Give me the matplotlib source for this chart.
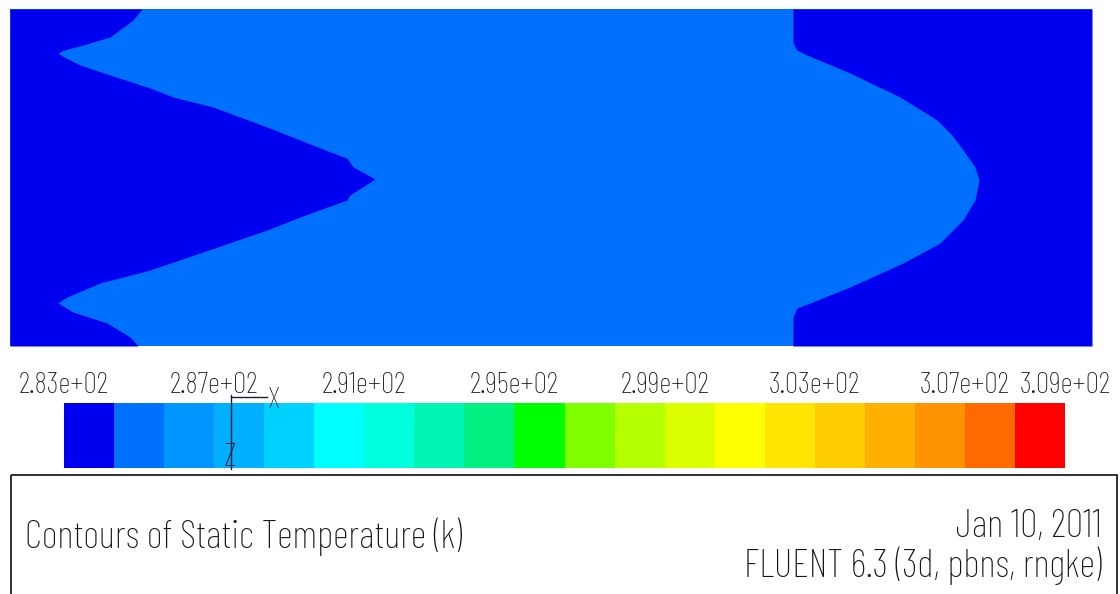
import matplotlib
matplotlib.use("Agg")
import matplotlib.pyplot as plt
from matplotlib import font_manager
from matplotlib.font_manager import FontProperties
from matplotlib.colors import ListedColormap, BoundaryNorm
from matplotlib.cm import ScalarMappable
from matplotlib.patches import Rectangle
import numpy as np

# ---------------- data ----------------
# contour band colours (20 levels, FLUENT rainbow)
band_colors = ["#0000F0", "#0070FF", "#0096FF", "#00B0FF", "#00D2FF",
               "#00FFFF", "#00FFDC", "#00F5B4", "#00F082", "#00FF00",
               "#80FF00", "#B4FF00", "#DCFF00", "#FFFF00", "#FFE600",
               "#FFCC00", "#FFB000", "#FF9400", "#FF6A00", "#FF0000"]
t_min, t_max = 283.0, 309.0
n_bands = 20
tick_band_index = [0, 3, 6, 9, 12, 15, 18, 20]
tick_labels = ["2.83e+02", "2.87e+02", "2.91e+02", "2.95e+02",
               "2.99e+02", "3.03e+02", "3.07e+02", "3.09e+02"]

# domain extent (screen units of the FLUENT view)
dom_x = [10, 1092]
dom_y = [9, 346]

# band-0 / band-1 iso-boundary near the inlet (left), x as function of y
left_y = [9, 20, 37, 45, 50, 53, 57, 65, 75, 88, 97, 107, 127, 153, 158,
          167, 179, 195, 200, 217, 230, 253, 270, 283, 297, 303, 312, 323,
          337, 346]
left_x = [142, 133, 110, 83, 64, 58, 64, 80, 110, 150, 173, 213, 267, 333,
          347, 353, 375, 350, 347, 300, 267, 200, 150, 100, 67, 58, 73, 107,
          130, 138]

# band-0 / band-1 iso-boundary near the outlet (right)
right_y = [9, 43, 50, 55, 73, 97, 120, 135, 150, 167, 180, 200, 220, 243,
           263, 287, 303, 308, 317, 346]
right_x = [793, 793, 797, 807, 850, 900, 937, 952, 963, 975, 979, 975, 963,
           940, 903, 850, 810, 797, 793, 793]

title_text = "Contours of Static Temperature (k)"
date_text = "Jan 10, 2011"
solver_text = "FLUENT 6.3 (3d, pbns, rngke)"

# ---------------- fonts ----------------
names = {f.name for f in font_manager.fontManager.ttflist}
candidates = [("Barlow Condensed", 200, 21.5, 28),
              ("Asap Condensed", 300, 20, 25),
              ("Archivo Narrow", 400, 20, 25),
              ("Roboto Condensed", 300, 20, 25),
              ("Liberation Sans Narrow", 400, 20, 25),
              ("DejaVu Sans", 400, 15, 18)]
for FONT, FW, fs_lab, fs_title in candidates:
    if FONT in names:
        break
plt.rcParams["font.family"] = [FONT, "DejaVu Sans"]
plt.rcParams["font.weight"] = FW
txt_color = "#151515"

# ---------------- figure ----------------
W, H = 1120, 594
fig = plt.figure(figsize=(W / 100, H / 100), dpi=100, facecolor="white")

# colorbar axes
levels = np.linspace(t_min, t_max, n_bands + 1)
cmap = ListedColormap(band_colors)
norm = BoundaryNorm(levels, cmap.N)
cb_left, cb_right, cb_top, cb_bot = 64, 1065, 403, 468
cax = fig.add_axes([cb_left / W, 1 - cb_bot / H, (cb_right - cb_left) / W,
                    (cb_bot - cb_top) / H])
cax.set_zorder(1)
cb = fig.colorbar(ScalarMappable(norm=norm, cmap=cmap), cax=cax,
                  orientation="horizontal", spacing="proportional")
cb.outline.set_visible(False)
cax.xaxis.set_ticks_position("top")
cb.set_ticks([levels[i] for i in tick_band_index])
cb.set_ticklabels(tick_labels)
cax.minorticks_off()
cax.tick_params(axis="x", which="both", length=0, pad=3, labelsize=fs_lab,
                labelcolor=txt_color)
for lab in cax.get_xticklabels():
    lab.set_fontfamily([FONT, "DejaVu Sans"])
    lab.set_fontweight(FW)

# main overlay axes in screen coordinates
ax = fig.add_axes([0, 0, 1, 1])
ax.set_zorder(2)
ax.patch.set_visible(False)
ax.set_xlim(0, W)
ax.set_ylim(H, 0)
ax.axis("off")

# domain: band 1 everywhere, band 0 regions at inlet and outlet
ax.fill_betweenx(dom_y, dom_x[0], dom_x[1], color=band_colors[1], lw=0)
ax.fill_betweenx(left_y, dom_x[0], left_x, color=band_colors[0], lw=0)
ax.fill_betweenx(right_y, right_x, dom_x[1], color=band_colors[0], lw=0)

# axis triad
tri_c = "#1c1c3a"
ax.plot([231, 231], [395, 469], color=tri_c, lw=1.0)
ax.plot([231, 267], [397, 397], color=tri_c, lw=1.0)
ax.text(274, 401, "X", color=tri_c, fontsize=fs_lab, ha="center",
        va="center")
ax.text(230, 458, "Z", color=tri_c, fontsize=fs_lab * 1.1, ha="center",
        va="center")

# title box
ax.add_patch(Rectangle((11, 475), 1106, 140, fill=False, edgecolor="#202020",
                       lw=1.3, clip_on=False))
ax.text(25, 548, title_text, fontsize=fs_title, color=txt_color,
        ha="left", va="baseline")

# date + solver as one right-aligned two-line block (baseline gap 32 px)
renderer = fig.canvas.get_renderer()
fp = FontProperties(family=[FONT, "DejaVu Sans"], weight=FW, size=fs_title)
_, h1, d1 = renderer.get_text_width_height_descent(solver_text, fp, ismath=False)
_, h2, d2 = renderer.get_text_width_height_descent("lp", fp, ismath=False)
asc = max(h1, h2) - max(d1, d2)
ls = 32.0 / asc
ax.text(1102, 577, date_text + "\n" + solver_text, fontsize=fs_title,
        color=txt_color, ha="right", va="baseline", multialignment="right",
        linespacing=ls)

fig.savefig("out.png", dpi=100, facecolor="white")
